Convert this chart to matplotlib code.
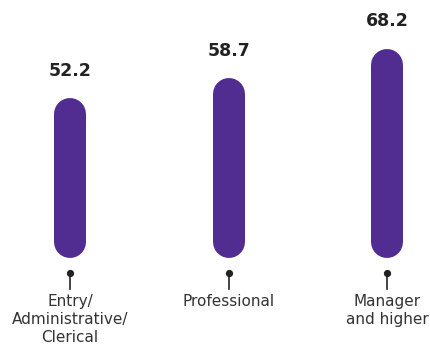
import matplotlib.pyplot as plt
import matplotlib.transforms as mtransforms

categories = ["Entry/\nAdministrative/\nClerical", "Professional", "Manager\nand higher"]
values = [52.2, 58.7, 68.2]

BAR_COLOR = "#522d91"
TEXT_COLOR = "#333333"
PIN_COLOR = "#222222"
BAR_PX = 32  # bar width in pixels

fig = plt.figure(figsize=(4.30, 3.51), dpi=100)
ax = fig.add_axes([0, 0, 1, 1])
ax.set_xlim(-0.442, 2.27)
ax.set_ylim(-30.3, 84.0)
ax.axis("off")

# radius of the rounded ends, converted from pixels to data units
px_per_unit = ax.transData.transform((0, 1))[1] - ax.transData.transform((0, 0))[1]
r = (BAR_PX / 2) / px_per_unit
lw = BAR_PX * 72 / fig.dpi

# transforms for the small pin under each bar (offsets in pixels)
dot_tr = mtransforms.offset_copy(ax.transData, fig=fig, x=0, y=-15, units="dots")
stem_bot_tr = mtransforms.offset_copy(ax.transData, fig=fig, x=0, y=-31, units="dots")

for i, (cat, v) in enumerate(zip(categories, values)):
    # pill-shaped bar: a thick line with round caps
    ax.plot([i, i], [r, v - r], color=BAR_COLOR, lw=lw,
            solid_capstyle="round", zorder=2)

    ax.annotate(f"{v:.1f}", (i, v), xytext=(0, 19.5), textcoords="offset points",
                ha="center", va="center", fontsize=12.5, fontweight="bold",
                color="#222222")

    # pin: dot plus short stem
    ax.plot([i], [0], "o", ms=4.2, color=PIN_COLOR, transform=dot_tr)
    p0 = dot_tr.transform((i, 0))
    p1 = stem_bot_tr.transform((i, 0))
    fig.add_artist(plt.Line2D([p0[0], p1[0]], [p0[1], p1[1]], transform=None,
                              color=PIN_COLOR, lw=1.2))

    ax.annotate(cat, (i, 0), xytext=(0, -26), textcoords="offset points",
                ha="center", va="top", fontsize=11, color=TEXT_COLOR,
                linespacing=1.25)

fig.savefig("out.png", dpi=100)
